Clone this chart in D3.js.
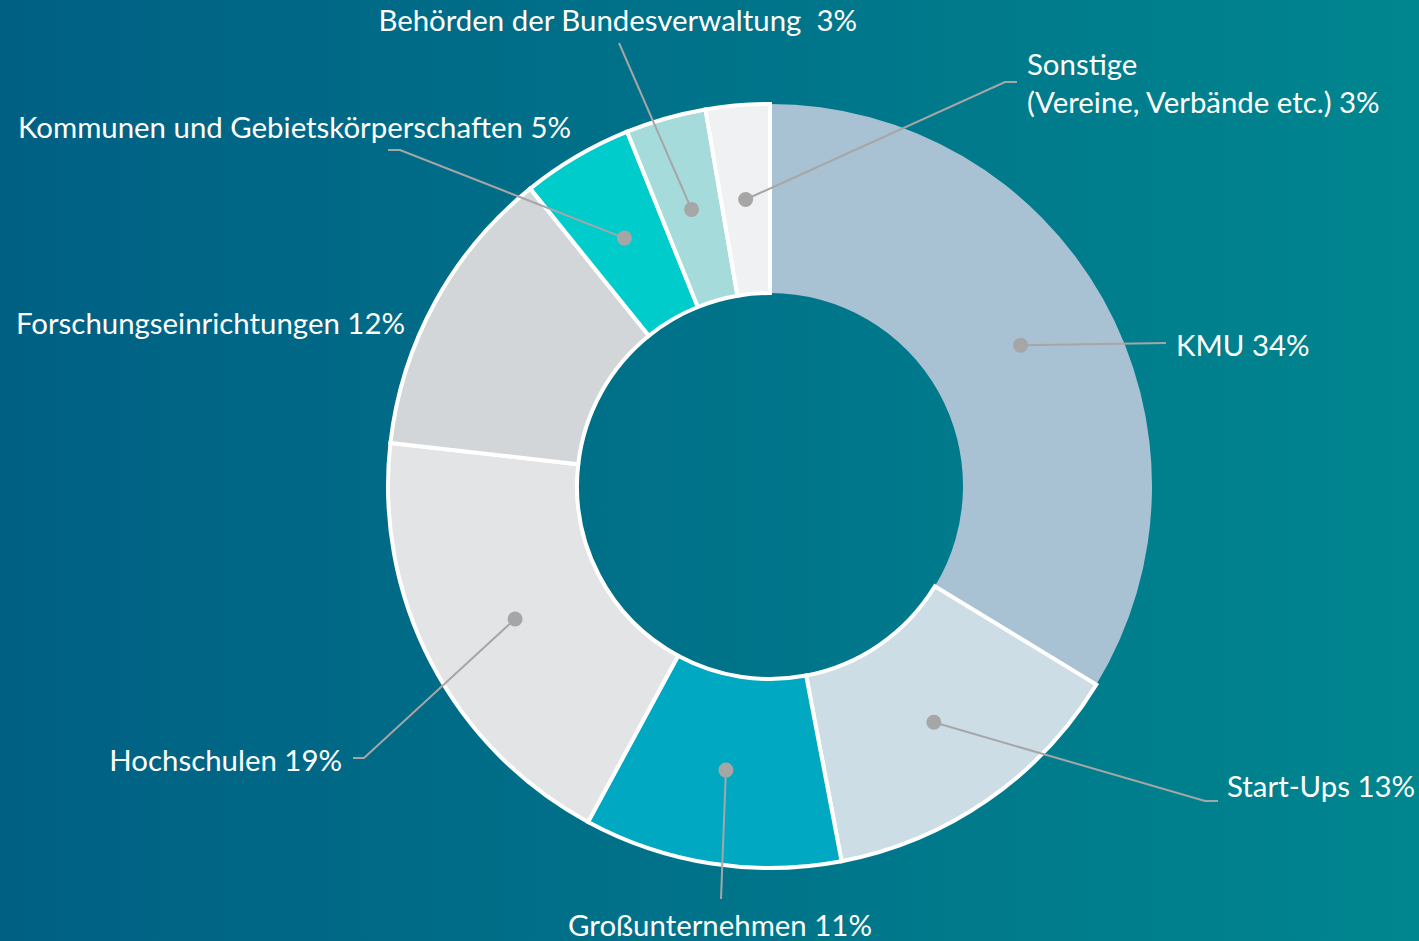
<!DOCTYPE html>
<html>
<head>
<meta charset="utf-8">
<script src="https://cdn.jsdelivr.net/npm/d3@7"></script>
<style>
  html, body { margin: 0; padding: 0; overflow: hidden; }
  svg { display: block; }
  text { font-family: Lato, "Open Sans", sans-serif; fill: #fff; }
</style>
</head>
<body>
<div id="container"></div>
<script>
var w = 1419,
  h = 941;

// data (shares; labels show rounded values)
var categories = ['KMU', 'Start-Ups', 'Großunternehmen', 'Hochschulen', 'Forschungseinrichtungen',
  'Kommunen und Gebietskörperschaften', 'Behörden der Bundesverwaltung', 'Sonstige'];
var shares = [33.7, 13.3, 10.9, 18.9, 12.4, 4.7, 3.4, 2.7];
var labelLines = [
  ['KMU 34%'],
  ['Start-Ups 13%'],
  ['Großunternehmen 11%'],
  ['Hochschulen 19%'],
  ['Forschungseinrichtungen 12%'],
  ['Kommunen und Gebietskörperschaften 5%'],
  ['Behörden der Bundesverwaltung  3%'],
  ['Sonstige', '(Vereine, Verbände etc.) 3%']
];
var sliceColors = ['#a8c2d4', '#cddde6', '#00a8c2', '#e3e4e6', '#d3d6d9', '#00cccc', '#a6dbdb', '#f0f1f3'];

// label layout: text anchor point, leader path points (after the dot)
var layout = [
  { x: 1176, y: 356, anchor: 'start', leader: [[1166, 343]] },
  { x: 1227, y: 797, anchor: 'start', leader: [[1205, 801], [1218, 801]] },
  { x: 720, y: 936, anchor: 'middle', leader: [[721, 899]] },
  { x: 342, y: 771, anchor: 'end', leader: [[364, 758], [353, 758]] },
  { x: 405, y: 334, anchor: 'end', leader: null },
  { x: 571, y: 138, anchor: 'end', leader: [[400, 150], [388, 150]] },
  { x: 857, y: 31, anchor: 'end', leader: [[619, 43]] },
  { x: 1027, y: 75, anchor: 'start', leader: [[1005, 82], [1017, 82]] }
];

var cx = 770, cy = 486, outerR = 382, innerR = 193;

var svg = d3.select('#container').append('svg')
  .attr('width', w)
  .attr('height', h);

var defs = svg.append('defs');
var grad = defs.append('linearGradient')
  .attr('id', 'bg')
  .attr('x1', '0%').attr('y1', '0%')
  .attr('x2', '100%').attr('y2', '0%');
grad.append('stop').attr('offset', '0%').attr('stop-color', '#006084');
grad.append('stop').attr('offset', '100%').attr('stop-color', '#00868f');

svg.append('rect')
  .attr('width', w)
  .attr('height', h)
  .attr('fill', 'url(#bg)');

var data = categories.map((c, i) => ({ name: c, value: shares[i], i: i }));

var pie = d3.pie()
  .value(d => d.value)
  .sort(null);

var arc = d3.arc()
  .innerRadius(innerR)
  .outerRadius(outerR);

var arcs = pie(data);

var g = svg.append('g')
  .attr('transform', 'translate(' + cx + ',' + cy + ')');

g.selectAll('path.slice')
  .data(arcs)
  .enter()
  .append('path')
  .attr('class', 'slice')
  .attr('d', arc)
  .attr('fill', d => sliceColors[d.data.i])
  .attr('stroke', d => d.data.i === 0 ? 'none' : '#fff')
  .attr('stroke-width', 4)
  .attr('stroke-linejoin', 'miter');

// leader lines
var leaders = svg.append('g').attr('class', 'leaders');
arcs.forEach(function (d) {
  var L = layout[d.data.i];
  if (!L.leader) return;
  var c = arc.centroid(d);
  var pts = [[cx + c[0], cy + c[1]]].concat(L.leader);
  leaders.append('path')
    .attr('d', d3.line()(pts))
    .attr('fill', 'none')
    .attr('stroke', '#a6a6a6')
    .attr('stroke-width', 2);
  leaders.append('circle')
    .attr('cx', pts[0][0])
    .attr('cy', pts[0][1])
    .attr('r', 7.5)
    .attr('fill', '#a6a6a6');
});

// labels
var labels = svg.append('g').attr('class', 'labels');
arcs.forEach(function (d) {
  var L = layout[d.data.i];
  var t = labels.append('text')
    .attr('x', L.x)
    .attr('y', L.y)
    .attr('text-anchor', L.anchor)
    .style('font-size', '29.4px')
    .style('white-space', 'pre');
  labelLines[d.data.i].forEach(function (line, k) {
    t.append('tspan')
      .attr('x', L.x)
      .attr('dy', k === 0 ? 0 : 38)
      .text(line);
  });
});
</script>
</body>
</html>
